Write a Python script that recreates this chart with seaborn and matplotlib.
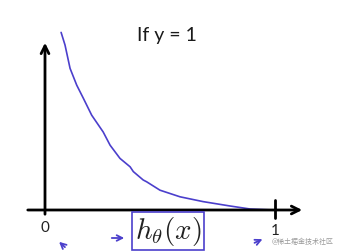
import matplotlib
matplotlib.use("Agg")
import matplotlib.pyplot as plt
import seaborn as sns
import pandas as pd

# data (h_theta(x) vs cost when y = 1)
h_values = [0.070, 0.087, 0.109, 0.138, 0.167, 0.203, 0.253, 0.283, 0.326, 0.370,
            0.384, 0.427, 0.442, 0.500, 0.587, 0.687, 0.804, 0.891, 0.991, 1.0]
cost_values = [2.96, 2.75, 2.36, 2.08, 1.86, 1.58, 1.30, 1.08, 0.86, 0.72,
               0.64, 0.50, 0.47, 0.33, 0.22, 0.14, 0.067, 0.017, 0.0, 0.0]
tick_labels = ["0", "1"]
title_text = "If y = 1"
xlabel_text = r"$h_\theta(x)$"
watermark = "@稀土掘金技术社区"

sns.set_theme(style="white")
plt.rcParams['font.family'] = ['Lato', 'Noto Sans CJK SC', 'DejaVu Sans']
plt.rcParams['mathtext.fontset'] = 'cm'

fig = plt.figure(figsize=(3.39, 2.52), dpi=100)
ax = fig.add_axes([0, 0, 1, 1])
# pixel mapping: x=0 at px 45, x=1 at px 275; y=0 at py 210, 60px per unit
ax.set_xlim(-45 / 230, (339 - 45) / 230)
ax.set_ylim((210 - 252) / 60, 210 / 60)
ax.axis("off")

df = pd.DataFrame({"h": h_values, "cost": cost_values})
sns.lineplot(data=df, x="h", y="cost", ax=ax, color="#4b3fcc", lw=1.2, sort=True)

blk = dict(arrowstyle="->", color="black", lw=2.0, mutation_scale=14)
# x axis
ax.annotate("", xy=(260 / 230, 0), xytext=(-20 / 230, 0), arrowprops=blk)
# y axis
ax.annotate("", xy=(0, 170 / 60), xytext=(0, -7 / 60), arrowprops=blk)
# tick at 1
ax.plot([1, 1], [-8 / 60, 10 / 60], color="black", lw=2.0)

ax.text(0, -18 / 60, tick_labels[0], ha="center", va="center", fontsize=11, color="#222222")
ax.text(1, -21 / 60, tick_labels[1], ha="center", va="center", fontsize=11, color="#222222")
ax.text(0.53, 175 / 60, title_text, ha="center", va="center", fontsize=14, color="#1a1a1a")
ax.text(0.535, -21 / 60, xlabel_text, ha="center", va="center", fontsize=21, color="#222222",
        bbox=dict(boxstyle="square,pad=0.08", fc="none", ec="#4b3fcc", lw=1.2))

blue = dict(arrowstyle="->", color="#4b3fcc", lw=1.3, mutation_scale=10)
ax.annotate("", xy=(12 / 230, -30 / 60), xytext=(22 / 230, -39 / 60), arrowprops=blue)
ax.annotate("", xy=(82 / 230, -28 / 60), xytext=(64 / 230, -28 / 60), arrowprops=blue)
ax.annotate("", xy=(220 / 230, -28 / 60), xytext=(207 / 230, -34 / 60), arrowprops=blue)

ax.text(289 / 230, -31 / 60, watermark, ha="right", va="center", fontsize=5, color="#999999")

fig.savefig("out.png", dpi=100)
